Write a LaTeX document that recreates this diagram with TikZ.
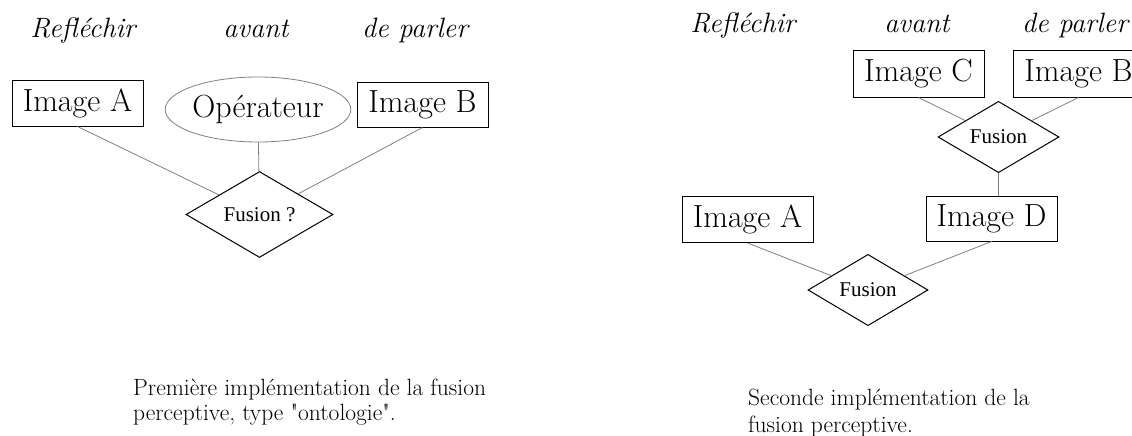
\documentclass[tikz,border=0pt]{standalone}
\usepackage{fontspec}
\newfontfamily\fusionfont{Liberation Serif}
\usetikzlibrary{shapes.geometric}

\tikzset{
  imagebox/.style={draw, line width=1pt, minimum width=131pt, minimum height=46pt,
    inner sep=0pt, font=\fontsize{32}{36}\selectfont},
  opnode/.style={draw=gray, line width=0.8pt, ellipse, minimum width=161pt,
    minimum height=65pt, inner sep=0pt, font=\fontsize{32}{36}\selectfont},
  fusionnode/.style={draw, line width=1pt, diamond, inner sep=0pt,
    font=\fusionfont\fontsize{21}{24}\selectfont},
  titre/.style={anchor=base, font=\itshape\fontsize{28}{32}\selectfont},
  legende/.style={anchor=base west, inner sep=0pt, font=\fontsize{23.5}{27}\selectfont},
  lien/.style={draw=gray, line width=0.8pt}
}

\begin{document}
\begin{tikzpicture}[x=1pt, y=-1pt]
                    \useasboundingbox (0,0) rectangle (1132,436);
                    % Premiere implementation
                    \node[titre] (r1) at (83,38) {Refléchir};
                    \node[titre] (v1) at (256,38) {avant};
                    \node[titre] (p1) at (415,38) {de parler};
                    \node[imagebox] (ia) at (77.5,103) {Image A};
                    \node[opnode] (op) at (258,109.5) {Opérateur};
                    \node[imagebox, minimum height=45pt] (ib) at (422.5,104.5) {Image B};
                    \node[fusionnode, minimum width=147pt, minimum height=85pt] (fq) at (259.5,214.5) {Fusion ?};
                    \draw[lien] (ia.south) -- (fq);
                    \draw[lien] (op) -- (fq);
                    \draw[lien] (ib.south) -- (fq);
                    \node[legende] (l1) at (133,395) {Première implémentation de la fusion};
                    \node[legende] (l2) at (133,420) {perceptive, type \textquotedbl ontologie\textquotedbl.};
                    % Seconde implementation
                    \node[titre] (r2) at (743,33) {Refléchir};
                    \node[titre] (v2) at (917,33) {avant};
                    \node[titre] (p2) at (1075,33) {de parler};
                    \node[imagebox] (ic) at (918.5,74) {Image C};
                    \node[imagebox] (ibb) at (1078.5,74) {Image B};
                    \node[fusionnode, minimum width=121pt, minimum height=66pt] (fa) at (998.5,137) {Fusion};
                    \node[imagebox, minimum height=45pt] (id) at (991.5,218.5) {Image D};
                    \node[imagebox] (iaa) at (747.5,219.5) {Image A};
                    \node[fusionnode, minimum width=120pt, minimum height=66pt] (fb) at (868,290) {Fusion};
                    \draw[lien] (ic.south) -- (fa);
                    \draw[lien] (ibb.south) -- (fa);
                    \draw[lien] (fa.south) -- (fa.south |- id.north);
                    \draw[lien] (iaa.south) -- (fb);
                    \draw[lien] (id.south) -- (fb);
                    \node[legende] (l3) at (748,405) {Seconde implémentation de la};
                    \node[legende] (l4) at (748,432) {fusion perceptive.};
                \end{tikzpicture}
\end{document}
